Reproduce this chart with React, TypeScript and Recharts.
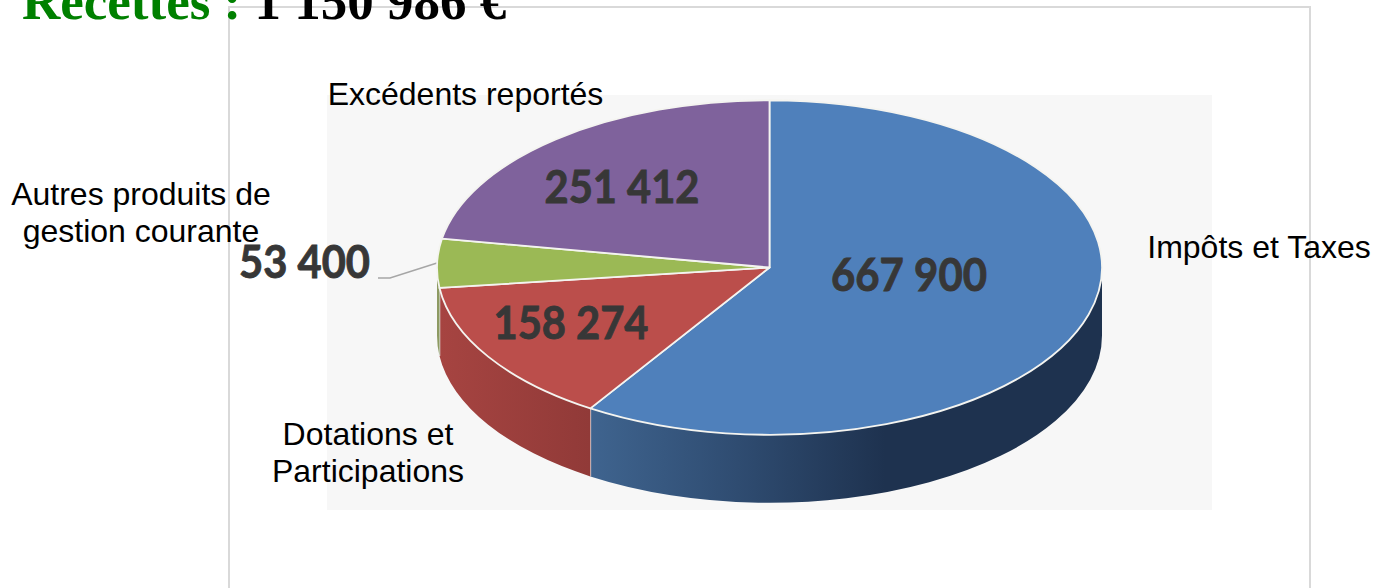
import { PieChart, Pie } from 'recharts';

// Budget revenue pie, drawn as a tilted disc: Recharts computes the angles,
// the custom shapes squash them into an ellipse and add the side wall.

const categories = ['Impôts et Taxes', 'Dotations et Participations', 'Autres produits de gestion courante', 'Excédents reportés'];
const values = [667900, 158274, 53400, 251412];
const valueLabels = ['667 900', '158 274', '53 400', '251 412'];
const topColors = ['#4f80bb', '#bb4e4b', '#9bb955', '#7f629c'];
const wallColors = ['url(#wallBlue)', 'url(#wallRed)', '#8d9a62', '#5d4775'];

const rows = categories.map((name, i) => ({ name, value: values[i], fill: topColors[i], wall: wallColors[i] }));

const W = 1384;
const H = 588;
const CX = 769.5;
const CY = 267.5;
const RX = 332.5;
const TILT = 0.503;
const DEPTH = 68;
const SANS = "'Liberation Sans', Arial, sans-serif";

// label anchors, same order as categories
const valuePos = [{ x: 909, y: 291, w: 156 }, { x: 571, y: 339, w: 155 }, { x: 304.5, y: 278, w: 131 }, { x: 622, y: 203, w: 155 }];
const nameLines = [['Impôts et Taxes'], ['Dotations et', 'Participations'], ['Autres produits de', 'gestion courante'], ['Excédents reportés']];
const namePos = [{ x: 1259, y: 258 }, { x: 368, y: 445 }, { x: 141, y: 205 }, { x: 465.5, y: 105 }];

const px = (cx: number, r: number, a: number) => cx + r * Math.cos((a * Math.PI) / 180);
const py = (cy: number, r: number, a: number) => cy - r * TILT * Math.sin((a * Math.PI) / 180);

function TopSlice(p: any) {
  const { cx, cy, outerRadius: r, startAngle: a0, endAngle: a1, fill } = p;
  const ry = r * TILT;
  const large = Math.abs(a1 - a0) > 180 ? 1 : 0;
  const d = `M${cx},${cy} L${px(cx, r, a0)},${py(cy, r, a0)} A${r},${ry} 0 ${large} 1 ${px(cx, r, a1)},${py(cy, r, a1)} Z`;
  return <path d={d} fill={fill} stroke="#f4f4f0" strokeWidth={1.8} strokeLinejoin="round" />;
}

// Only the part of a slice facing the viewer (180..360 deg) has a visible wall
function WallSlice(p: any) {
  const { cx, cy, outerRadius: r, startAngle, endAngle, wall } = p;
  // slices run clockwise, so angles decrease: a0 > a1
  let a0 = ((startAngle % 360) + 360) % 360;
  if (a0 <= 180) a0 += 360;
  const a1 = a0 - Math.abs(endAngle - startAngle);
  const hi = Math.min(a0, 360);
  const lo = Math.max(a1, 180);
  if (hi <= lo) return <g />;
  const ry = r * TILT;
  const large = hi - lo > 180 ? 1 : 0;
  const d =
    `M${px(cx, r, hi)},${py(cy, r, hi)} A${r},${ry} 0 ${large} 1 ${px(cx, r, lo)},${py(cy, r, lo)} ` +
    `L${px(cx, r, lo)},${py(cy, r, lo) + DEPTH} A${r},${ry} 0 ${large} 0 ${px(cx, r, hi)},${py(cy, r, hi) + DEPTH} Z`;
  const seam = lo > 180;
  return (
    <g>
      <path d={d} fill={wall} />
      {seam && <line x1={px(cx, r, lo)} y1={py(cy, r, lo)} x2={px(cx, r, lo)} y2={py(cy, r, lo) + DEPTH} stroke="#e8e8e8" strokeWidth={1.5} />}
    </g>
  );
}

function ValueLabel(p: any) {
  const pos = valuePos[p.index];
  return (
    <text x={pos.x} y={pos.y} textAnchor="middle" fontFamily="Lato, sans-serif" fontWeight={700} fontSize={45} fill="#373737" stroke="#373737" strokeWidth={0.9} textLength={pos.w} lengthAdjust="spacingAndGlyphs">
      {valueLabels[p.index]}
    </text>
  );
}

export default function App() {
  return (
    <div style={{ position: 'absolute', left: 0, top: 0, width: W, height: H, overflow: 'hidden', background: '#fff' }}>
      <PieChart width={W} height={H} margin={{ top: 0, right: 0, bottom: 0, left: 0 }}>
        <defs>
          <linearGradient id="wallBlue" gradientUnits="userSpaceOnUse" x1={590} y1={0} x2={885} y2={0}>
            <stop offset="0" stopColor="#3f648f" />
            <stop offset="0.5" stopColor="#2f4c71" />
            <stop offset="1" stopColor="#1e324f" />
          </linearGradient>
          <linearGradient id="wallRed" gradientUnits="userSpaceOnUse" x1={440} y1={0} x2={590} y2={0}>
            <stop offset="0" stopColor="#a64441" />
            <stop offset="1" stopColor="#913a38" />
          </linearGradient>
        </defs>
        <rect x={229} y={7} width={1081} height={700} fill="#fff" stroke="#d9d9d9" strokeWidth={2} />
        <rect x={327} y={95} width={885} height={415} fill="#f7f7f7" />
        <Pie data={rows} dataKey="value" cx={CX} cy={CY} outerRadius={RX} startAngle={90} endAngle={-270} shape={WallSlice} isAnimationActive={false} legendType="none" />
        <Pie data={rows} dataKey="value" cx={CX} cy={CY} outerRadius={RX} startAngle={90} endAngle={-270} shape={TopSlice} label={ValueLabel} labelLine={false} isAnimationActive={false} />
        <polyline points="378,278 390,278 437,263" fill="none" stroke="#a6a6a6" strokeWidth={1.5} />
        {nameLines.map((lines, i) => (
          <text key={i} x={namePos[i].x} y={namePos[i].y} textAnchor="middle" fontFamily={SANS} fontSize={32} fill="#000">
            {lines.map((t, j) => (
              <tspan key={j} x={namePos[i].x} dy={j === 0 ? 0 : 37}>{t}</tspan>
            ))}
          </text>
        ))}
        <text x={22} y={19} fontFamily="'Liberation Serif', 'Times New Roman', serif" fontWeight={700} fontSize={53}>
          <tspan fill="#008000">Recettes : </tspan>
          <tspan fill="#000">1 150 986 €</tspan>
        </text>
      </PieChart>
    </div>
  );
}
